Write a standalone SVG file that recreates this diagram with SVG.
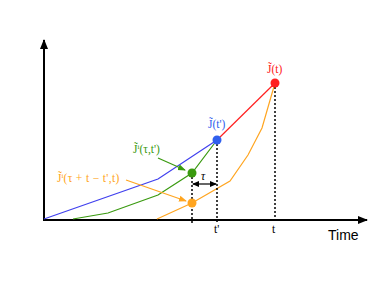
<svg xmlns="http://www.w3.org/2000/svg" width="385" height="298" viewBox="0 0 385 298">
<style>
.lbl{font-family:"Liberation Serif","DejaVu Serif",serif;font-size:11.5px}
.sup{font-size:7px}
.curve{fill:none;stroke-width:1.2}
.dash{stroke:#000;stroke-width:1.5;stroke-dasharray:2,2;fill:none}
</style>
<defs>
<marker id="ax" markerWidth="10" markerHeight="10" refX="9" refY="5" orient="auto" markerUnits="userSpaceOnUse">
<path d="M0,1 L10,5 L0,9 Z" fill="#000"/>
</marker>
<marker id="ga" markerWidth="8" markerHeight="8" refX="7" refY="4" orient="auto" markerUnits="userSpaceOnUse">
<path d="M0,1 L8,4 L0,7 Z" fill="#3a9a10"/>
</marker>
<marker id="oa" markerWidth="8" markerHeight="8" refX="7" refY="4" orient="auto" markerUnits="userSpaceOnUse">
<path d="M0,1 L8,4 L0,7 Z" fill="#ffa520"/>
</marker>
<marker id="ta" markerWidth="7" markerHeight="7" refX="6" refY="3.5" orient="auto-start-reverse" markerUnits="userSpaceOnUse">
<path d="M0,0.5 L7,3.5 L0,6.5 Z" fill="#000"/>
</marker>
</defs>
<rect width="385" height="298" fill="#fff"/>
<g id="axes">
<line x1="44" y1="220" x2="44" y2="40" stroke="#000" stroke-width="2" marker-end="url(#ax)"/>
<line x1="43" y1="220" x2="367" y2="220" stroke="#000" stroke-width="2" marker-end="url(#ax)"/>
<text x="328" y="240" font-family="Liberation Sans, Arial, sans-serif" font-size="14">Time</text>
<text x="214" y="233" class="lbl" font-size="10">t'</text>
<text x="272" y="233" class="lbl" font-size="10">t</text>
</g>
<g id="connectors">
<polyline class="curve" stroke="#ffa520" points="157,219 192,203 230,181 248,155 262,128 275,83"/>
<polyline class="curve" stroke="#3a9a10" points="73,219 108,213 158,195 192,173 217,140"/>
<polyline class="curve" stroke="#4040ee" points="44,219 158,179 217,140"/>
<line class="curve" stroke="#ff2020" x1="217" y1="140" x2="275" y2="83"/>
<line class="dash" x1="192" y1="173" x2="192" y2="223"/>
<line class="dash" x1="217" y1="140" x2="217" y2="223"/>
<line class="dash" x1="275" y1="83" x2="275" y2="223"/>
<line x1="158" y1="158" x2="185" y2="170" stroke="#3a9a10" stroke-width="1.2" marker-end="url(#ga)"/>
<line x1="126" y1="180" x2="186" y2="201" stroke="#ffa520" stroke-width="1.2" marker-end="url(#oa)"/>
<line x1="193" y1="184" x2="216" y2="184" stroke="#000" stroke-width="1.2" marker-start="url(#ta)" marker-end="url(#ta)"/>
<text x="201" y="180" class="lbl" font-style="italic">τ</text>
</g>
<g id="node-Jt">
<circle cx="275" cy="83" r="4.5" fill="#ff2020"/>
<text x="267" y="73" class="lbl" fill="#ff2020">J̃(t)</text>
</g>
<g id="node-Jtp">
<circle cx="217" cy="140" r="4.5" fill="#3060ee"/>
<text x="208" y="128" class="lbl" fill="#3060ee">J̃(t')</text>
</g>
<g id="node-Ji1">
<circle cx="192" cy="173" r="4.5" fill="#3a9a10"/>
<text x="133" y="153" class="lbl" fill="#3a9a10">J̃<tspan class="sup" dy="-4">i</tspan><tspan dy="4">(τ,t')</tspan></text>
</g>
<g id="node-Ji2">
<circle cx="192" cy="203" r="4.5" fill="#ffa520"/>
<text x="57" y="182" class="lbl" fill="#ffa520">J̃<tspan class="sup" dy="-4">i</tspan><tspan dy="4" textLength="56">(τ + t − t',t)</tspan></text>
</g>
</svg>
